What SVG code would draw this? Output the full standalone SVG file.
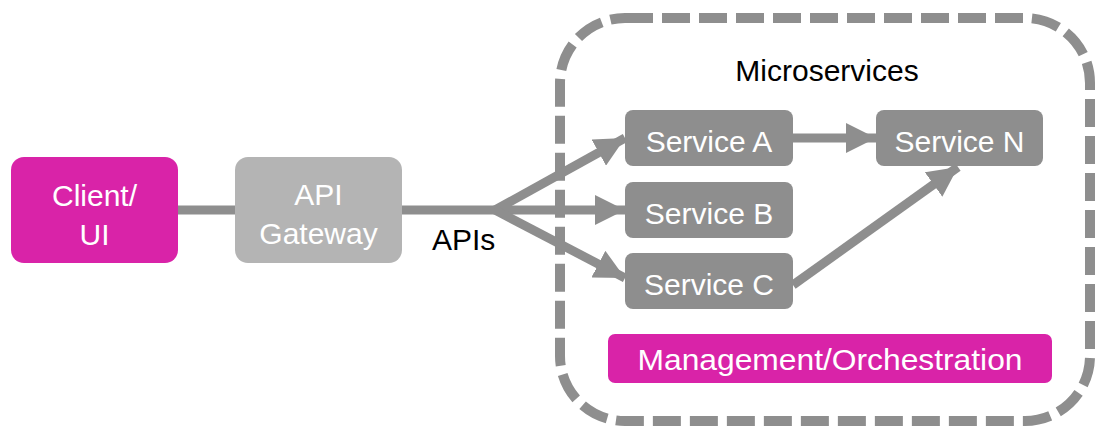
<svg xmlns="http://www.w3.org/2000/svg" width="1096" height="429" viewBox="0 0 1096 429">
<style>
text{font-family:"Liberation Sans",Arial,sans-serif;font-size:30px;text-anchor:middle}
.w{fill:#ffffff}
.k{fill:#000000}
.svc{fill:#8e8e8e}
.mag{fill:#d923a8}
.gw{fill:#b4b4b4}
.ln{stroke:#8e8e8e;stroke-width:9;fill:none}
</style>
<defs>
<marker id="ah" markerUnits="userSpaceOnUse" markerWidth="30" markerHeight="30" viewBox="0 0 28 28" refX="28" refY="14" orient="auto">
<path d="M0,0 L28,14 L0,28 z" fill="#8e8e8e"/>
</marker>
</defs>
<g id="container">
<rect x="560" y="18" width="530" height="403" rx="65" ry="65" fill="none" stroke="#8e8e8e" stroke-width="10" stroke-dasharray="28 9"/>
<text class="k" x="827" y="81">Microservices</text>
</g>
<g id="connectors">
<line class="ln" x1="178" y1="210" x2="235" y2="210"/>
<line class="ln" x1="402" y1="210" x2="497" y2="210"/>
<line class="ln" x1="495" y1="210" x2="625" y2="138" marker-end="url(#ah)"/>
<line class="ln" x1="495" y1="210" x2="625" y2="210" marker-end="url(#ah)"/>
<line class="ln" x1="495" y1="210" x2="625" y2="278" marker-end="url(#ah)"/>
<line class="ln" x1="793" y1="138" x2="876" y2="138" marker-end="url(#ah)"/>
<line class="ln" x1="793" y1="285" x2="958" y2="167" marker-end="url(#ah)"/>
<text class="k" x="432" y="250" style="text-anchor:start">APIs</text>
</g>
<g id="client">
<rect class="mag" x="11" y="157" width="167" height="106" rx="13"/>
<text class="w" x="94.5" y="206">Client/</text>
<text class="w" x="94.5" y="245">UI</text>
</g>
<g id="gateway">
<rect class="gw" x="235" y="157" width="167" height="106" rx="13"/>
<text class="w" x="318.5" y="205">API</text>
<text class="w" x="318.5" y="244">Gateway</text>
</g>
<g id="serviceA">
<rect class="svc" x="625" y="110" width="168" height="56" rx="8"/>
<text class="w" x="709" y="152">Service A</text>
</g>
<g id="serviceN">
<rect class="svc" x="876" y="110" width="167" height="56" rx="8"/>
<text class="w" x="959.5" y="152">Service N</text>
</g>
<g id="serviceB">
<rect class="svc" x="625" y="182" width="168" height="56" rx="8"/>
<text class="w" x="709" y="224">Service B</text>
</g>
<g id="serviceC">
<rect class="svc" x="625" y="253" width="168" height="56" rx="8"/>
<text class="w" x="709" y="295">Service C</text>
</g>
<g id="management">
<rect class="mag" x="608" y="334" width="444" height="49" rx="7"/>
<text class="w" x="830" y="370" textLength="385" lengthAdjust="spacingAndGlyphs">Management/Orchestration</text>
</g>
</svg>
